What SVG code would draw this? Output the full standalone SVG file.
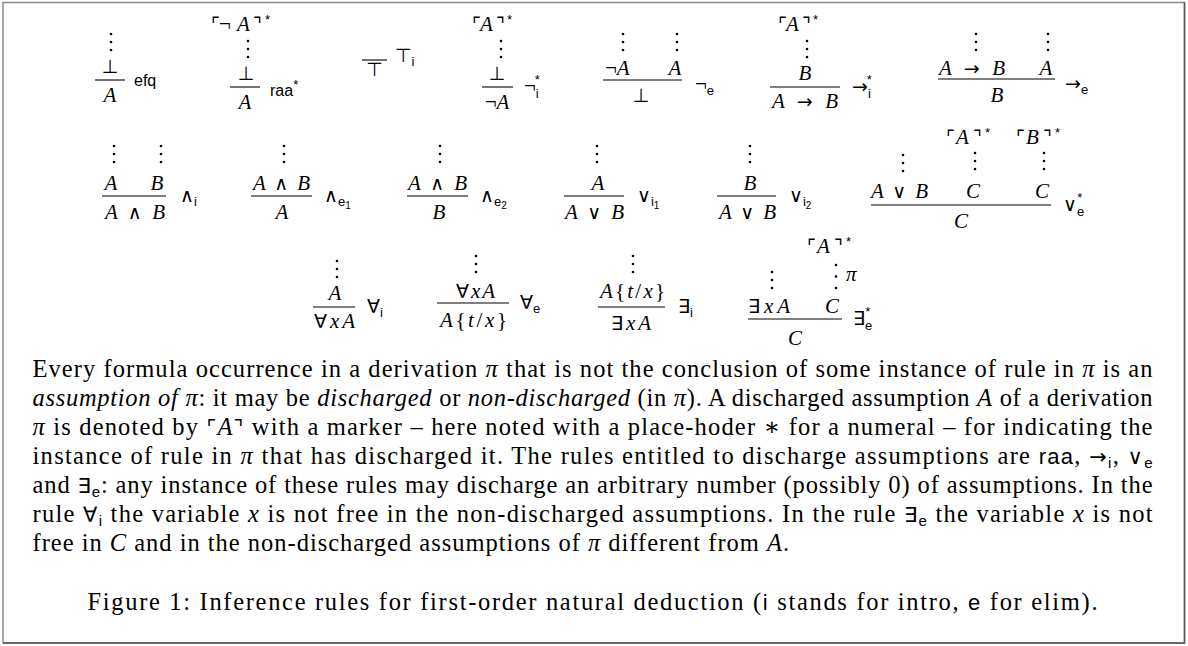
<svg xmlns="http://www.w3.org/2000/svg" width="1188" height="646" viewBox="0 0 1188 646">
<style>
.m{font-family:"Liberation Serif","DejaVu Serif","DejaVu Sans",serif;font-size:21px;fill:#000}
.i{font-style:italic}
.sy{font-family:"DejaVu Sans",sans-serif;font-style:normal;font-size:19px}
.lab{font-family:"Liberation Sans","DejaVu Sans",sans-serif;font-size:16px;fill:#000}
.sb{font-family:"Liberation Sans","DejaVu Sans",sans-serif;font-size:13px;font-style:normal}
.sbb{font-family:"Liberation Sans","DejaVu Sans",sans-serif;font-size:10px;font-style:normal}
.t{font-family:"Liberation Serif","DejaVu Serif","DejaVu Sans",serif;font-size:24.5px;fill:#000}
.tsy{font-family:"DejaVu Sans",sans-serif;font-size:21px}
.sf{font-family:"Liberation Sans","DejaVu Sans",sans-serif;font-size:22px}
.ts{font-family:"Liberation Sans","DejaVu Sans",sans-serif;font-size:15px}
.bar{stroke:#000;stroke-width:1.1}
.dt{fill:#000}
</style>
<defs>
<g id="vd" class="dt"><circle cx="0" cy="0" r="1.3"/><circle cx="0" cy="8" r="1.3"/><circle cx="0" cy="16" r="1.3"/></g>
<g id="vdl" class="dt"><circle cx="0" cy="0" r="1.3"/><circle cx="0" cy="11.5" r="1.3"/><circle cx="0" cy="23" r="1.3"/></g>
</defs>
<rect x="0" y="0" width="1188" height="646" fill="#fff"/>
<g id="frame">
<rect x="3" y="2.5" width="1181.5" height="640.5" fill="none" stroke="#8a8a8a" stroke-width="1.5"/>
<path d="M3 643 H1184.5 V2.5" fill="none" stroke="#555" stroke-width="1.5"/>
</g>
<g id="connectors"/>

<!-- Row 1 -->
<g id="rule-efq">
<use href="#vd" x="111" y="34"/>
<text class="m" x="110" y="73" text-anchor="middle"><tspan class="sy">⊥</tspan></text>
<line class="bar" x1="95" y1="80" x2="125" y2="80"/>
<text class="m i" x="110" y="102" text-anchor="middle">A</text>
<text class="lab" x="134" y="86">efq</text>
</g>
<g id="rule-raa">
<text class="m" y="31"><tspan class="sy" x="211">⌜</tspan><tspan x="219">¬</tspan><tspan class="i" x="237">A</tspan><tspan class="sy" x="253">⌝</tspan><tspan class="sb" x="265" dy="-7">*</tspan></text>
<use href="#vd" x="248" y="41"/>
<text class="m" x="246" y="80" text-anchor="middle"><tspan class="sy">⊥</tspan></text>
<line class="bar" x1="230" y1="87" x2="260" y2="87"/>
<text class="m i" x="245" y="109" text-anchor="middle">A</text>
<text class="lab" x="270" y="96">raa<tspan class="sb" dy="-7">*</tspan></text>
</g>
<g id="rule-top">
<line class="bar" x1="362" y1="60" x2="387" y2="60"/>
<text class="sy" x="374.5" y="76" text-anchor="middle">⊤</text>
<text class="sy" x="395" y="62">⊤<tspan class="sb" dy="4">i</tspan></text>
</g>
<g id="rule-negi">
<text class="m" y="31"><tspan class="sy" x="472">⌜</tspan><tspan class="i" x="480">A</tspan><tspan class="sy" x="496">⌝</tspan><tspan class="sb" x="507" dy="-7">*</tspan></text>
<use href="#vd" x="501" y="41"/>
<text class="m" x="497" y="80" text-anchor="middle"><tspan class="sy">⊥</tspan></text>
<line class="bar" x1="482" y1="87" x2="513" y2="87"/>
<text class="m" x="497" y="109" text-anchor="middle">¬<tspan class="i">A</tspan></text>
<text class="m" x="524" y="93">¬<tspan class="sb" dy="5">i</tspan><tspan class="sb" dx="-4" dy="-14">*</tspan></text>
</g>
<g id="rule-nege">
<use href="#vd" x="623" y="34"/>
<use href="#vd" x="677" y="34"/>
<text class="m" x="605" y="75">¬<tspan class="i">A</tspan></text>
<text class="m i" x="675" y="75" text-anchor="middle">A</text>
<line class="bar" x1="603" y1="80" x2="682" y2="80"/>
<text class="m" x="641" y="102" text-anchor="middle"><tspan class="sy">⊥</tspan></text>
<text class="m" x="695" y="91">¬<tspan class="sb" dy="4">e</tspan></text>
</g>
<g id="rule-impi">
<text class="m" y="31"><tspan class="sy" x="778">⌜</tspan><tspan class="i" x="786">A</tspan><tspan class="sy" x="802">⌝</tspan><tspan class="sb" x="813" dy="-7">*</tspan></text>
<use href="#vd" x="807" y="41"/>
<text class="m i" x="805" y="80" text-anchor="middle">B</text>
<line class="bar" x1="770" y1="87" x2="840" y2="87"/>
<text class="m i" x="772" y="108" textLength="66" lengthAdjust="spacing">A <tspan class="sy">→</tspan> B</text>
<text class="m" x="852" y="93"><tspan class="sy">→</tspan><tspan class="sb" dy="5">i</tspan><tspan class="sb" dx="-4" dy="-14">*</tspan></text>
</g>
<g id="rule-impe">
<use href="#vd" x="976" y="34"/>
<use href="#vd" x="1048" y="34"/>
<text class="m i" x="939" y="75" textLength="66" lengthAdjust="spacing">A <tspan class="sy">→</tspan> B</text>
<text class="m i" x="1046" y="75" text-anchor="middle">A</text>
<line class="bar" x1="938" y1="79" x2="1055" y2="79"/>
<text class="m i" x="997" y="102" text-anchor="middle">B</text>
<text class="m" x="1065" y="90"><tspan class="sy">→</tspan><tspan class="sb" dy="4">e</tspan></text>
</g>

<!-- Row 2 -->
<g id="rule-andi">
<use href="#vd" x="114" y="146"/>
<use href="#vd" x="161" y="146"/>
<text class="m i" x="111" y="190" text-anchor="middle">A</text>
<text class="m i" x="157" y="190" text-anchor="middle">B</text>
<line class="bar" x1="102" y1="196" x2="166" y2="196"/>
<text class="m i" x="105" y="219" textLength="60" lengthAdjust="spacing">A <tspan class="sy">∧</tspan> B</text>
<text class="m" x="180" y="202"><tspan class="sy">∧</tspan><tspan class="sb" dy="4">i</tspan></text>
</g>
<g id="rule-ande1">
<use href="#vd" x="284" y="146"/>
<text class="m i" x="253" y="190" textLength="57" lengthAdjust="spacing">A <tspan class="sy">∧</tspan> B</text>
<line class="bar" x1="251" y1="196" x2="312" y2="196"/>
<text class="m i" x="282" y="219" text-anchor="middle">A</text>
<text class="m" x="324" y="202"><tspan class="sy">∧</tspan><tspan class="sb" dy="4">e</tspan><tspan class="sbb" dy="3">1</tspan></text>
</g>
<g id="rule-ande2">
<use href="#vd" x="440" y="146"/>
<text class="m i" x="408" y="190" textLength="59" lengthAdjust="spacing">A <tspan class="sy">∧</tspan> B</text>
<line class="bar" x1="407" y1="196" x2="468" y2="196"/>
<text class="m i" x="439" y="219" text-anchor="middle">B</text>
<text class="m" x="480" y="202"><tspan class="sy">∧</tspan><tspan class="sb" dy="4">e</tspan><tspan class="sbb" dy="3">2</tspan></text>
</g>
<g id="rule-ori1">
<use href="#vd" x="597" y="146"/>
<text class="m i" x="598" y="190" text-anchor="middle">A</text>
<line class="bar" x1="564" y1="196" x2="624" y2="196"/>
<text class="m i" x="565" y="219" textLength="59" lengthAdjust="spacing">A <tspan class="sy">∨</tspan> B</text>
<text class="m" x="637" y="202"><tspan class="sy">∨</tspan><tspan class="sb" dy="4">i</tspan><tspan class="sbb" dy="3">1</tspan></text>
</g>
<g id="rule-ori2">
<use href="#vd" x="750" y="146"/>
<text class="m i" x="750" y="190" text-anchor="middle">B</text>
<line class="bar" x1="717" y1="196" x2="776" y2="196"/>
<text class="m i" x="719" y="219" textLength="57" lengthAdjust="spacing">A <tspan class="sy">∨</tspan> B</text>
<text class="m" x="789" y="202"><tspan class="sy">∨</tspan><tspan class="sb" dy="4">i</tspan><tspan class="sbb" dy="3">2</tspan></text>
</g>
<g id="rule-ore">
<text class="m" y="144"><tspan class="sy" x="946">⌜</tspan><tspan class="i" x="956">A</tspan><tspan class="sy" x="973">⌝</tspan><tspan class="sb" x="985" dy="-7">*</tspan></text>
<text class="m" y="144"><tspan class="sy" x="1016">⌜</tspan><tspan class="i" x="1026">B</tspan><tspan class="sy" x="1043">⌝</tspan><tspan class="sb" x="1055" dy="-7">*</tspan></text>
<use href="#vd" x="903" y="155"/>
<use href="#vd" x="975" y="153"/>
<use href="#vd" x="1044" y="153"/>
<text class="m i" x="871" y="198" textLength="57" lengthAdjust="spacing">A <tspan class="sy">∨</tspan> B</text>
<text class="m i" x="973" y="198" text-anchor="middle">C</text>
<text class="m i" x="1042" y="198" text-anchor="middle">C</text>
<line class="bar" x1="871" y1="205" x2="1051" y2="205"/>
<text class="m i" x="961" y="228" text-anchor="middle">C</text>
<text class="m" x="1063" y="211"><tspan class="sy">∨</tspan><tspan class="sb" dy="5">e</tspan><tspan class="sb" dx="-7" dy="-14">*</tspan></text>
</g>

<!-- Row 3 -->
<g id="rule-alli">
<use href="#vd" x="337" y="261"/>
<text class="m i" x="335" y="300" text-anchor="middle">A</text>
<line class="bar" x1="313" y1="307" x2="355" y2="307"/>
<text class="m" x="314" y="328" textLength="41" lengthAdjust="spacing"><tspan class="sy">∀</tspan><tspan class="i">xA</tspan></text>
<text class="m" x="367" y="313"><tspan class="sy">∀</tspan><tspan class="sb" dy="4">i</tspan></text>
</g>
<g id="rule-alle">
<use href="#vd" x="476" y="256"/>
<text class="m" x="456" y="298" textLength="39" lengthAdjust="spacing"><tspan class="sy">∀</tspan><tspan class="i">xA</tspan></text>
<line class="bar" x1="437" y1="303" x2="509" y2="303"/>
<text class="m" x="440" y="327" textLength="67" lengthAdjust="spacing"><tspan class="i">A</tspan>{<tspan class="i">t</tspan>/<tspan class="i">x</tspan>}</text>
<text class="m" x="520" y="309"><tspan class="sy">∀</tspan><tspan class="sb" dy="4">e</tspan></text>
</g>
<g id="rule-exi">
<use href="#vd" x="633" y="256"/>
<text class="m" x="600" y="298" textLength="65" lengthAdjust="spacing"><tspan class="i">A</tspan>{<tspan class="i">t</tspan>/<tspan class="i">x</tspan>}</text>
<line class="bar" x1="598" y1="307" x2="665" y2="307"/>
<text class="m" x="611" y="330" textLength="40" lengthAdjust="spacing"><tspan class="sy">∃</tspan><tspan class="i">xA</tspan></text>
<text class="m" x="678" y="313"><tspan class="sy">∃</tspan><tspan class="sb" dy="4">i</tspan></text>
</g>
<g id="rule-exe">
<text class="m" y="253"><tspan class="sy" x="807">⌜</tspan><tspan class="i" x="817">A</tspan><tspan class="sy" x="834">⌝</tspan><tspan class="sb" x="846" dy="-7">*</tspan></text>
<use href="#vd" x="772" y="272"/>
<use href="#vdl" x="836" y="265"/>
<text class="m i" x="846" y="281">π</text>
<text class="m" x="748" y="313" textLength="42" lengthAdjust="spacing"><tspan class="sy">∃</tspan><tspan class="i">xA</tspan></text>
<text class="m i" x="832" y="313" text-anchor="middle">C</text>
<line class="bar" x1="748" y1="319" x2="842" y2="319"/>
<text class="m i" x="795" y="345" text-anchor="middle">C</text>
<text class="m" x="853" y="325"><tspan class="sy">∃</tspan><tspan class="sb" dy="5">e</tspan><tspan class="sb" dx="-7" dy="-14">*</tspan></text>
</g>

<!-- Explanatory text -->
<g id="caption-text">
<text class="t" x="32.5" y="377" textLength="1120" lengthAdjust="spacing">Every formula occurrence in a derivation <tspan class="i">π</tspan> that is not the conclusion of some instance of rule in <tspan class="i">π</tspan> is an</text>
<text class="t" x="32.5" y="406" textLength="1120" lengthAdjust="spacing"><tspan class="i">assumption of π</tspan>: it may be <tspan class="i">discharged</tspan> or <tspan class="i">non-discharged</tspan> (in <tspan class="i">π</tspan>). A discharged assumption <tspan class="i">A</tspan> of a derivation</text>
<text class="t" x="32.5" y="435" textLength="1120" lengthAdjust="spacing"><tspan class="i">π</tspan> is denoted by <tspan class="tsy">⌜</tspan><tspan class="i">A</tspan><tspan class="tsy">⌝</tspan> with a marker – here noted with a place-hoder ∗ for a numeral – for indicating the</text>
<text class="t" x="32.5" y="464" textLength="1120" lengthAdjust="spacing">instance of rule in <tspan class="i">π</tspan> that has discharged it. The rules entitled to discharge assumptions are <tspan class="sf">raa</tspan>, <tspan class="tsy">→</tspan><tspan class="ts" dy="4">i</tspan><tspan dy="-4">, </tspan><tspan class="tsy">∨</tspan><tspan class="ts" dy="4">e</tspan></text>
<text class="t" x="32.5" y="493" textLength="1120" lengthAdjust="spacing">and <tspan class="tsy">∃</tspan><tspan class="ts" dy="4">e</tspan><tspan dy="-4">: any instance of these rules may discharge an arbitrary number (possibly 0) of assumptions. In the</tspan></text>
<text class="t" x="32.5" y="522" textLength="1120" lengthAdjust="spacing">rule <tspan class="tsy">∀</tspan><tspan class="ts" dy="4">i</tspan><tspan dy="-4"> the variable </tspan><tspan class="i">x</tspan> is not free in the non-discharged assumptions. In the rule <tspan class="tsy">∃</tspan><tspan class="ts" dy="4">e</tspan><tspan dy="-4"> the variable </tspan><tspan class="i">x</tspan> is not</text>
<text class="t" x="32.5" y="551" textLength="756.5" lengthAdjust="spacing">free in <tspan class="i">C</tspan> and in the non-discharged assumptions of <tspan class="i">π</tspan> different from <tspan class="i">A</tspan>.</text>
<text class="t" x="87.5" y="610" textLength="1010" lengthAdjust="spacing">Figure 1: Inference rules for first-order natural deduction (<tspan class="sf">i</tspan> stands for intro, <tspan class="sf">e</tspan> for elim).</text>
</g>
</svg>
